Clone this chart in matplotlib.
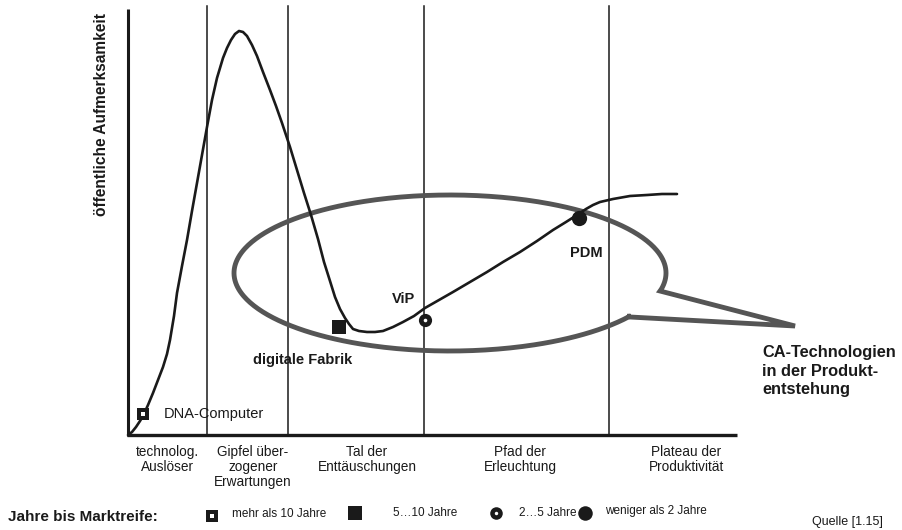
import numpy as np
import matplotlib
matplotlib.use("Agg")
import matplotlib.pyplot as plt

plt.rcParams['font.family'] = ['Liberation Sans', 'DejaVu Sans']

# Hype curve (canvas units, y grows downward)
curve_x = [128, 132, 136, 140, 143, 148, 153, 158, 163, 167, 170, 174, 177, 182,
           187, 192, 197, 202, 207, 212, 217, 223, 227, 231, 235, 239, 243, 247,
           252, 257, 263, 270, 276, 282, 290, 297, 304, 311, 318, 324, 330, 335,
           340, 345, 349, 353, 359, 367, 375, 383, 393, 403, 414, 425, 439, 453,
           470, 487, 503, 520, 537, 553, 566, 577, 586, 593, 600, 613, 630, 647,
           662, 677]
curve_y = [435, 432, 427, 421, 416, 405, 393, 380, 367, 354, 340, 316, 293, 266,
           240, 211, 183, 155, 127, 100, 78, 58, 48, 40, 34, 31, 32, 36,
           45, 56, 72, 90, 106, 123, 147, 170, 193, 215, 239, 262, 281, 297,
           309, 318, 324, 329, 331, 332, 332, 331, 327, 322, 316, 308, 300, 292,
           282, 272, 262, 252, 241, 230, 222, 215, 209, 205, 202, 199, 196, 195,
           194, 194]

# Phase boundaries and phase names
phase_bounds = [207, 288, 424, 609]
phase_centers = [167, 253, 367, 520, 686]
phase_labels = ["technolog.\nAuslöser", "Gipfel über-\nzogener\nErwartungen",
                "Tal der\nEnttäuschungen", "Pfad der\nErleuchtung",
                "Plateau der\nProduktivität"]

# Technologies on the curve
tech_names = ["DNA-Computer", "digitale Fabrik", "ViP", "PDM"]
tech_x = [143, 339, 425, 579]
tech_y = [414, 327, 320, 218]
tech_kind = ["sq_dot", "sq", "ring", "dot"]

legend_labels = ["mehr als 10 Jahre", "5…10 Jahre", "2…5 Jahre", "weniger als 2 Jahre"]
legend_kind = ["sq_dot", "sq", "ring", "dot"]

fig = plt.figure(figsize=(9.02, 5.30), dpi=100)
ax = fig.add_axes([0, 0, 1, 1])
ax.set_xlim(0, 902)
ax.set_ylim(530, 0)
ax.axis('off')

ink = '#1a1a1a'
gray = '#555555'

# axes
ax.plot([128, 128], [9, 436], color=ink, lw=2.2, solid_capstyle='butt')
ax.plot([127, 737], [435, 435], color=ink, lw=2.4, solid_capstyle='butt')
for xb in phase_bounds:
    ax.plot([xb, xb], [6, 435], color=ink, lw=1.1)

# callout bubble
cx, cy, a, b = 450, 273, 216, 78
t = np.radians(np.linspace(34, 372, 400))
ex = cx + a * np.cos(t)
ey = cy + b * np.sin(t)
bx = np.concatenate([ex, [660, 795, 630, ex[0]]])
by = np.concatenate([ey, [291, 326, 317, ey[0]]])
ax.plot(bx, by, color=gray, lw=3.5, solid_joinstyle='miter')

# hype curve
ax.plot(curve_x, curve_y, color=ink, lw=1.9, solid_capstyle='round',
        solid_joinstyle='round', zorder=4)


def draw_marker(x, y, kind, scale=1.0):
    if kind == "sq_dot":
        ax.plot(x, y, marker='s', ms=8.5 * scale, color=ink, mew=0, zorder=5)
        ax.plot(x, y, marker='s', ms=2.6 * scale, color='white', mew=0, zorder=6)
    elif kind == "sq":
        ax.plot(x, y, marker='s', ms=10 * scale, color=ink, mew=0, zorder=5)
    elif kind == "ring":
        ax.plot(x, y, marker='o', ms=9.5 * scale, color=ink, mew=0, zorder=5)
        ax.plot(x, y, marker='o', ms=2.6 * scale, color='white', mew=0, zorder=6)
    else:
        ax.plot(x, y, marker='o', ms=11 * scale, color=ink, mew=0, zorder=5)


for x, y, k in zip(tech_x, tech_y, tech_kind):
    draw_marker(x, y, k)

ax.text(164, 414, tech_names[0], fontsize=10.5, va='center', ha='left', color=ink)
ax.text(253, 360, tech_names[1], fontsize=10.5, fontweight='bold', va='center', ha='left', color=ink)
ax.text(404, 299, tech_names[2], fontsize=10.5, fontweight='bold', va='center', ha='center', color=ink)
ax.text(586, 253, tech_names[3], fontsize=10.5, fontweight='bold', va='center', ha='center', color=ink)

ax.text(762, 371, "CA-Technologien\nin der Produkt-\nentstehung", fontsize=11.8,
        fontweight='bold', va='center', ha='left', linespacing=1.3, color=ink)

# y axis title
ax.text(101, 114, "öffentliche Aufmerksamkeit", rotation=90, fontsize=11.2,
        fontweight='bold', va='center', ha='center', color=ink)

# phase names
for xc, lab in zip(phase_centers, phase_labels):
    ax.text(xc, 445, lab, fontsize=9.8, ha='center', va='top', linespacing=1.1, color=ink)

# legend row
ax.text(8, 517, "Jahre bis Marktreife:", fontsize=11, fontweight='bold',
        va='center', ha='left', color=ink)
leg_mx = [212, 355, 496, 585]
leg_my = [516, 513, 513, 513]
leg_tx = [232, 393, 519, 605]
leg_ty = [514, 513, 513, 511]
for mx, my, tx, ty, k, lab in zip(leg_mx, leg_my, leg_tx, leg_ty, legend_kind, legend_labels):
    draw_marker(mx, my, k, scale=0.95)
    ax.text(tx, ty, lab, fontsize=8.5, va='center', ha='left', color=ink)

ax.text(812, 522, "Quelle [1.15]", fontsize=9, va='center', ha='left', color=ink)

fig.savefig("out.png", dpi=100, facecolor='white')
